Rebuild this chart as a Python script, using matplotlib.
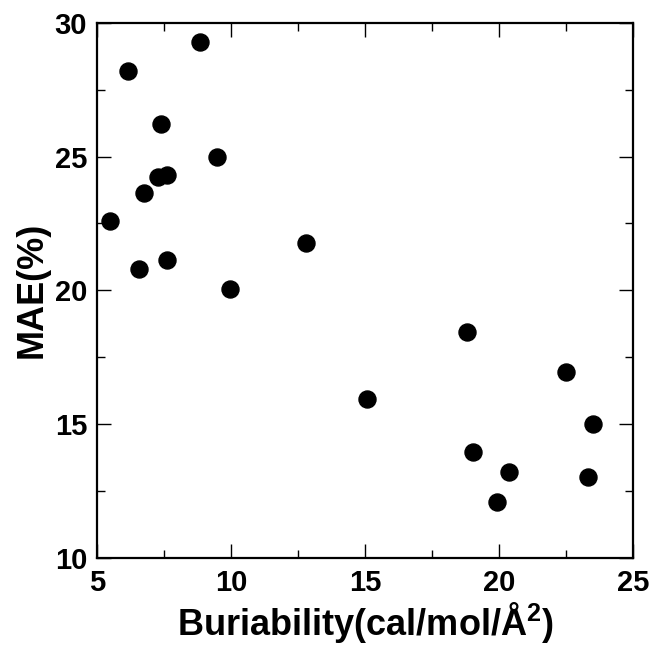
import matplotlib
matplotlib.use("Agg")
import matplotlib.pyplot as plt
from matplotlib.ticker import MultipleLocator

# Buriability vs MAE
buriability = [8.84, 6.17, 7.38, 9.47, 7.29, 7.62, 6.75, 5.49, 12.8, 7.6, 6.58, 9.96,
               18.79, 22.5, 15.09, 23.5, 19.02, 20.39, 19.91, 23.33]
mae = [29.29, 28.21, 26.22, 25.0, 24.25, 24.31, 23.65, 22.6, 21.78, 21.14, 20.79, 20.04,
       18.43, 16.96, 15.93, 15.0, 13.95, 13.23, 12.11, 13.04]

plt.rcParams['font.family'] = ['Liberation Sans', 'DejaVu Sans']
plt.rcParams['font.weight'] = 'bold'
plt.rcParams['mathtext.fontset'] = 'custom'
plt.rcParams['mathtext.rm'] = 'Liberation Sans'
plt.rcParams['mathtext.bf'] = 'Liberation Sans:bold'

fig = plt.figure(figsize=(6.53, 6.48), dpi=100)
ax = fig.add_axes([0.1485, 0.1389, 0.8209, 0.8261])

ax.scatter(buriability, mae, s=150, color='black', zorder=3)

ax.set_xlim(5, 25)
ax.set_ylim(10, 30)
ax.xaxis.set_major_locator(MultipleLocator(5))
ax.yaxis.set_major_locator(MultipleLocator(5))
ax.xaxis.set_minor_locator(MultipleLocator(2.5))
ax.yaxis.set_minor_locator(MultipleLocator(2.5))

ax.tick_params(which='both', direction='in', top=True, right=True, width=1.0)
ax.tick_params(which='major', length=10, labelsize=21)
ax.tick_params(axis='x', which='major', pad=8)
ax.tick_params(axis='y', which='major', pad=7)
ax.tick_params(which='minor', length=6)
for sp in ax.spines.values():
    sp.set_linewidth(1.6)

ax.set_xlabel("Buriability(cal/mol/Å$^{\\mathrm{2}}$)", fontsize=26, fontweight='bold', labelpad=2)
ax.set_ylabel("MAE(%)", fontsize=26, fontweight='bold', labelpad=4)

plt.savefig("out.png", dpi=100)
